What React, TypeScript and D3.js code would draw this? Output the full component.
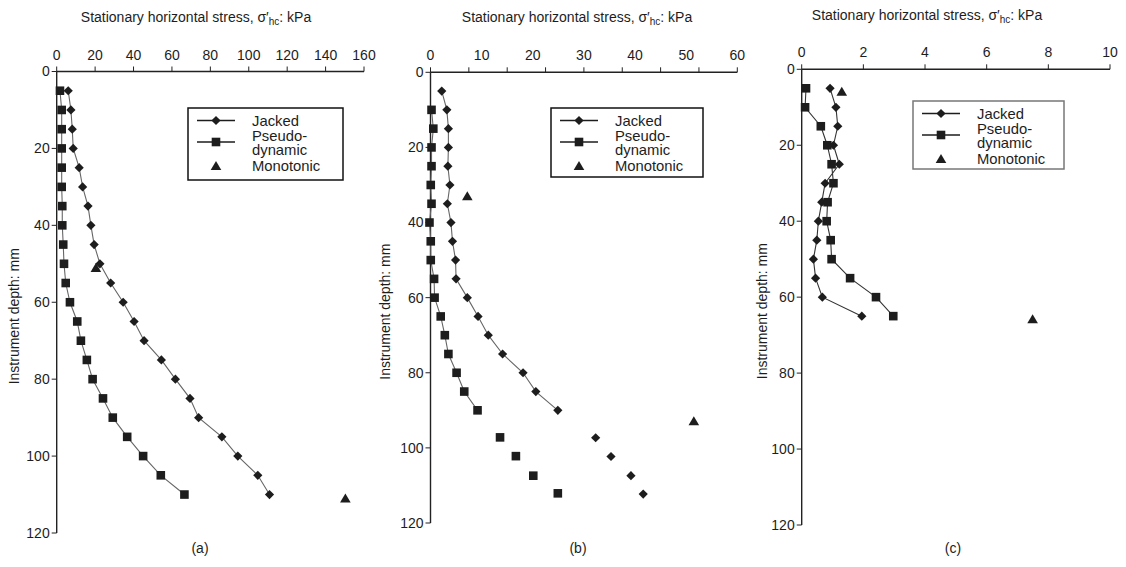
import React from 'react';
import * as d3 from 'd3';

// ---------- Data ----------
const depthA = [5, 10, 15, 20, 25, 30, 35, 40, 45, 50, 55, 60, 65, 70, 75, 80, 85, 90, 95, 100, 105, 110];
const jackedA = [6.0, 7.4, 8.1, 8.6, 11.7, 13.5, 16.3, 17.8, 19.5, 22.5, 28.1, 34.6, 40.3, 45.5, 54.5, 61.8, 69.4, 73.9, 86.0, 94.3, 104.7, 110.8];
const pseudoA = [1.7, 2.6, 2.6, 2.6, 2.6, 2.6, 2.9, 2.9, 3.4, 3.8, 4.7, 6.9, 10.7, 12.6, 15.7, 18.7, 24.1, 29.2, 36.7, 45.0, 54.2, 66.5];
const monoDepthA = [51.1, 111.0];
const monoA = [20.4, 150.3];

const jackedDepthB = [5, 10, 15, 20, 25, 30, 35, 40, 45, 50, 55, 60, 65, 70, 75, 80, 85, 90];
const jackedB = [2.2, 3.2, 3.5, 3.5, 3.4, 3.8, 3.3, 4.0, 4.3, 4.9, 5.0, 7.2, 9.3, 11.3, 14.1, 18.1, 20.6, 24.9];
const jackedExtraDepthB = [97.3, 102.3, 107.4, 112.3];
const jackedExtraB = [32.3, 35.3, 39.2, 41.6];
const pseudoDepthB = [10, 15, 20, 25, 30, 35, 40, 45, 50, 55, 60, 65, 70, 75, 80, 85, 90];
const pseudoB = [0.2, 0.55, 0.2, 0.2, 0.05, 0.2, -0.2, 0.05, 0.05, 0.7, 0.8, 2.0, 2.8, 3.5, 5.1, 6.6, 9.2];
const pseudoExtraDepthB = [97.2, 102.2, 107.4, 112.1];
const pseudoExtraB = [13.6, 16.7, 20.1, 24.9];
const monoDepthB = [33.0, 92.9];
const monoB = [7.2, 51.5];

const depthC = [5, 10, 15, 20, 25, 30, 35, 40, 45, 50, 55, 60, 65];
const jackedC = [0.92, 1.11, 1.17, 1.03, 1.22, 0.76, 0.65, 0.54, 0.49, 0.38, 0.45, 0.67, 1.95];
const pseudoC = [0.14, 0.11, 0.62, 0.83, 0.97, 1.03, 0.84, 0.81, 0.94, 0.97, 1.57, 2.41, 2.97];
const monoDepthC = [5.9, 65.8];
const monoC = [1.3, 7.49];

const xTicksA = [0, 20, 40, 60, 80, 100, 120, 140, 160];
const xTicksB = [0, 10, 20, 30, 40, 50, 60];
const xTicksC = [0, 2, 4, 6, 8, 10];
const yTicks = [0, 20, 40, 60, 80, 100, 120];
const legendLabels = ['Jacked', 'Pseudo-', 'dynamic', 'Monotonic'];
const captions = ['(a)', '(b)', '(c)'];

type Pt = [number, number];
const zip = (v: number[], d: number[]): Pt[] => v.map((x, i) => [x, d[i]]);

type Series = { pts: Pt[]; line: boolean; marker: 'diamond' | 'square' | 'triangle' };

interface Panel {
  xDomain: [number, number];
  xRange: [number, number];
  yRange: [number, number];
  xTicks: number[];
  minorTickCount: number;
  series: Series[];
  titleX: number;
  titleY: number;
  labelY: number;
  yLabelX: number;
  legend: { x: number; y: number; w: number; h: number; stroke: string };
  captionX: number;
  lineColor: string;
}

const panels: Panel[] = [
  {
    xDomain: [0, 160], xRange: [56.7, 364], yRange: [71.5, 533], xTicks: xTicksA, minorTickCount: 8,
    series: [
      { pts: zip(jackedA, depthA), line: true, marker: 'diamond' },
      { pts: zip(pseudoA, depthA), line: true, marker: 'square' },
      { pts: zip(monoA, monoDepthA), line: false, marker: 'triangle' },
    ],
    titleX: 196, titleY: 22, labelY: 60, yLabelX: 19,
    legend: { x: 188, y: 108, w: 155, h: 72, stroke: '#111' }, captionX: 200, lineColor: '#666',
  },
  {
    xDomain: [0, 60], xRange: [430.5, 737.3], yRange: [72.3, 523], xTicks: xTicksB, minorTickCount: 8,
    series: [
      { pts: zip(jackedB, jackedDepthB), line: true, marker: 'diamond' },
      { pts: zip(jackedExtraB, jackedExtraDepthB), line: false, marker: 'diamond' },
      { pts: zip(pseudoB, pseudoDepthB), line: true, marker: 'square' },
      { pts: zip(pseudoExtraB, pseudoExtraDepthB), line: false, marker: 'square' },
      { pts: zip(monoB, monoDepthB), line: false, marker: 'triangle' },
    ],
    titleX: 577, titleY: 22, labelY: 60, yLabelX: 390,
    legend: { x: 551, y: 108, w: 152, h: 69, stroke: '#111' }, captionX: 578, lineColor: '#666',
  },
  {
    xDomain: [0, 10], xRange: [801.7, 1110], yRange: [69.3, 525], xTicks: xTicksC, minorTickCount: 5,
    series: [
      { pts: zip(jackedC, depthC), line: true, marker: 'diamond' },
      { pts: zip(pseudoC, depthC), line: true, marker: 'square' },
      { pts: zip(monoC, monoDepthC), line: false, marker: 'triangle' },
    ],
    titleX: 927, titleY: 20, labelY: 57, yLabelX: 767,
    legend: { x: 913, y: 101, w: 151, h: 68, stroke: '#777' }, captionX: 953, lineColor: '#333',
  },
];

const FONT = '"Liberation Sans", Arial, Helvetica, sans-serif';
const INK = '#1d1d1d';

function markerPath(m: string): string {
  if (m === 'diamond') return 'M0,-4.6L4.6,0L0,4.6L-4.6,0Z';
  if (m === 'square') return 'M-4.3,-4.3H4.3V4.3H-4.3Z';
  return 'M0,-5L5.3,4L-5.3,4Z';
}

function Title({ x, y }: { x: number; y: number }) {
  return (
    <text x={x} y={y} textAnchor="middle" fontSize={14} fill={INK} fontFamily={FONT}>
      Stationary horizontal stress, σ′<tspan fontSize={10} dy={3}>hc</tspan>
      <tspan dy={-3}>: kPa</tspan>
    </text>
  );
}

function PanelView({ p, idx }: { p: Panel; idx: number }) {
  const x = d3.scaleLinear().domain(p.xDomain).range(p.xRange);
  const y = d3.scaleLinear().domain([0, 120]).range(p.yRange);
  const tickPos = d3.scaleLinear().domain([0, p.minorTickCount]).range(p.xRange);
  const tickIdx = d3.range(p.minorTickCount + 1);
  const line = d3.line<Pt>().x((d) => x(d[0])).y((d) => y(d[1]));
  const L = p.legend;
  const lx0 = L.x + 9, lx1 = L.x + 47, lmid = (lx0 + lx1) / 2, tx = L.x + 64;
  const ry1 = L.y + 12.5, ry2 = L.y + 34, ry3 = L.y + 58;
  const y0 = p.yRange[0];
  const ax = p.xRange[0];
  const LF = 14.8;
  return (
    <g>
      <Title x={p.titleX} y={p.titleY} />
      <line x1={ax} x2={p.xRange[1]} y1={y0} y2={y0} stroke="#222" strokeWidth={1.4} />
      {tickIdx.map((i) => (
        <line key={i} x1={tickPos(i)} x2={tickPos(i)} y1={y0} y2={y0 - 5} stroke="#222" strokeWidth={1} />
      ))}
      {p.xTicks.map((t) => (
        <text key={t} x={x(t)} y={p.labelY} textAnchor="middle" fontSize={14} fill={INK} fontFamily={FONT}>
          {t}
        </text>
      ))}
      <line x1={ax} x2={ax} y1={y0} y2={p.yRange[1]} stroke="#222" strokeWidth={1.4} />
      {yTicks.map((t) => (
        <g key={t}>
          <line x1={ax - 5} x2={ax} y1={y(t)} y2={y(t)} stroke="#222" strokeWidth={1} />
          <text x={ax - 7} y={y(t)} dy="0.35em" textAnchor="end" fontSize={14} fill={INK} fontFamily={FONT}>
            {t}
          </text>
        </g>
      ))}
      <text
        transform={`translate(${p.yLabelX},${(p.yRange[0] + p.yRange[1]) / 2 + 14}) rotate(-90)`}
        textAnchor="middle" fontSize={14} fill={INK} fontFamily={FONT}
      >
        Instrument depth: mm
      </text>
      {p.series.map((s, si) => (
        <g key={si}>
          {s.line && <path d={line(s.pts) || ''} fill="none" stroke={p.lineColor} strokeWidth={1.1} />}
          {s.pts.map((d, i) => (
            <path key={i} d={markerPath(s.marker)} transform={`translate(${x(d[0])},${y(d[1])})`} fill={INK} />
          ))}
        </g>
      ))}
      <rect x={L.x} y={L.y} width={L.w} height={L.h} fill="white" stroke={L.stroke} strokeWidth={1.5} />
      <line x1={lx0} x2={lx1} y1={ry1} y2={ry1} stroke={INK} strokeWidth={1.6} />
      <path d={markerPath('diamond')} transform={`translate(${lmid},${ry1})`} fill={INK} />
      <text x={tx} y={ry1} dy="0.36em" fontSize={LF} fill={INK} fontFamily={FONT}>{legendLabels[0]}</text>
      <line x1={lx0} x2={lx1} y1={ry2} y2={ry2} stroke={INK} strokeWidth={1.6} />
      <path d={markerPath('square')} transform={`translate(${lmid},${ry2})`} fill={INK} />
      <text x={tx} y={ry2 - 6.5} dy="0.36em" fontSize={LF} fill={INK} fontFamily={FONT}>{legendLabels[1]}</text>
      <text x={tx} y={ry2 + 7.5} dy="0.36em" fontSize={LF} fill={INK} fontFamily={FONT}>{legendLabels[2]}</text>
      <path d={markerPath('triangle')} transform={`translate(${lmid},${ry3})`} fill={INK} />
      <text x={tx} y={ry3} dy="0.36em" fontSize={LF} fill={INK} fontFamily={FONT}>{legendLabels[3]}</text>
      <text x={p.captionX} y={553} textAnchor="middle" fontSize={14} fill={INK} fontFamily={FONT}>
        {captions[idx]}
      </text>
    </g>
  );
}

export default function App() {
  return (
    <svg
      width={1126}
      height={567}
      style={{ position: 'absolute', left: 0, top: 0, background: 'white' }}
      xmlns="http://www.w3.org/2000/svg"
    >
      <rect width={1126} height={567} fill="white" />
      {panels.map((p, i) => (
        <PanelView key={i} p={p} idx={i} />
      ))}
    </svg>
  );
}
